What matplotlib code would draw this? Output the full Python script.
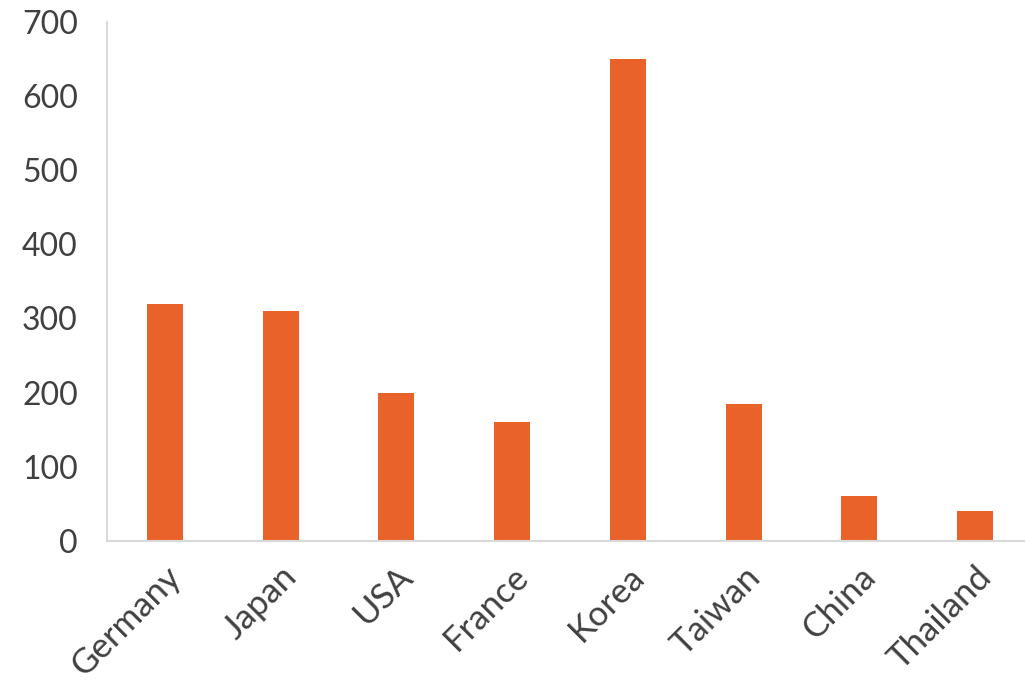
import matplotlib
matplotlib.use("Agg")
import matplotlib.pyplot as plt

countries = ["Germany", "Japan", "USA", "France", "Korea", "Taiwan", "China", "Thailand"]
values = [320, 310, 200, 160, 650, 185, 60, 40]
yticks = [0, 100, 200, 300, 400, 500, 600, 700]

bar_color = "#E8622A"
text_color = "#404040"
axis_color = "#D9D9D9"

plt.rcParams["font.family"] = ["Lato", "DejaVu Sans"]

fig = plt.figure(figsize=(10.25, 6.83), dpi=100)
# axes run past the right edge like the original
ax = fig.add_axes([0.1044, 0.208, 0.9034, 0.760])

ax.bar(range(len(countries)), values, width=0.31, color=bar_color)

ax.set_xlim(-0.5, len(countries) - 0.5)
ax.set_ylim(0, 700)
ax.set_yticks(yticks)
ax.set_xticks(range(len(countries)))
ax.set_xticklabels(countries, rotation=45, ha="right", rotation_mode="anchor")

for side in ["top", "right"]:
    ax.spines[side].set_visible(False)
for side in ["left", "bottom"]:
    ax.spines[side].set_color(axis_color)
    ax.spines[side].set_linewidth(1.5)

ax.tick_params(axis="both", length=0, colors=text_color)
ax.tick_params(axis="y", labelsize=23, pad=21)
ax.tick_params(axis="x", labelsize=25, pad=14)

fig.savefig("out.png", dpi=100)
